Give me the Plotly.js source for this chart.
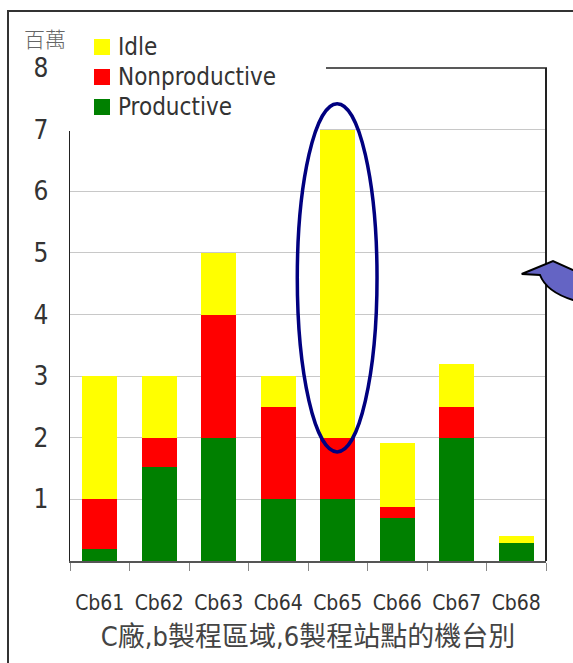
<!DOCTYPE html>
<html><head><meta charset="utf-8">
<script src="https://cdn.plot.ly/plotly-3.0.1.min.js"></script>
<style>html,body{margin:0;padding:0;background:#fff;overflow:hidden;} #chart{width:573px;height:663px;}</style>
</head><body><div id="chart"></div>
<script>
const categories = ['Cb61','Cb62','Cb63','Cb64','Cb65','Cb66','Cb67','Cb68'];
const productive = [0.2, 1.52, 2.0, 1.0, 1.0, 0.7, 2.0, 0.3];
const nonproductive = [0.8, 0.48, 2.0, 1.5, 1.0, 0.18, 0.5, 0];
const idle = [2.0, 1.0, 1.0, 0.5, 5.0, 1.04, 0.7, 0.1];
const yTicks = [1,2,3,4,5,6,7,8];
const seriesNames = ['Productive','Nonproductive','Idle'];
const seriesColors = ['#008000','#ff0000','#ffff00'];
const xTitle = 'C廠,b製程區域,6製程站點的機台別';
const unitLabel = '百萬';

const FONT = '"DejaVu Sans Condensed", "DejaVu Sans", "Noto Sans CJK TC", sans-serif';
const W = 573, H = 663, L = 70, R = 546, T = 68, B = 561;
const px = v => (v - L) / (R - L);
const py = v => (B - v) / (B - T);

const values = [productive, nonproductive, idle];
const traces = values.map((vals, i) => ({
  type:'bar', x:categories, y:vals, name:seriesNames[i],
  marker:{color:seriesColors[i], line:{width:0}}, showlegend:false, hoverinfo:'skip'
}));

const calloutPts = [[521.7,274],[553,261],[573,270],[585,273],[585,303],[573,300]];
let callout = 'M ' + calloutPts.map(p => px(p[0]) + ',' + py(p[1])).join(' L ');
callout += ' C ' + px(560) + ',' + py(296) + ' ' + px(545) + ',' + py(288) + ' ' + px(540) + ',' + py(275) + ' Z';

const shapes = [
  {type: 'path', xref: 'paper', yref: 'paper', layer: 'above',
    path: 'M ' + px(8) + ',' + py(670) + ' L ' + px(8) + ',' + py(11) + ' L ' + px(580) + ',' + py(11),
    line: {color: '#333333', width: 2}},
  {type: 'rect', xref: 'paper', yref: 'paper', layer: 'above',
    x0: px(66), x1: px(320), y0: py(131), y1: py(64), fillcolor: '#ffffff', line: {width: 0}},
  {type: 'line', xref: 'paper', yref: 'paper', layer: 'above',
    x0: px(326), x1: px(547), y0: 1, y1: 1, line: {color: '#222222', width: 1.5}},
  {type: 'line', xref: 'paper', yref: 'paper', layer: 'above',
    x0: 1, x1: 1, y0: 0, y1: 1, line: {color: '#222222', width: 2}},
  {type: 'circle', xref: 'x', yref: 'y', layer: 'above',
    x0: 3.32, x1: 4.66, y0: 1.77, y1: 7.42, line: {color: '#000080', width: 3.5}},
  {type: 'path', xref: 'paper', yref: 'paper', layer: 'above', path: callout,
    fillcolor: '#6464c4', line: {color: '#000000', width: 2}}
];
const annotations = [
  {text: unitLabel, xref: 'paper', yref: 'paper', x: px(45), y: py(38), xanchor: 'center', yanchor: 'middle',
    showarrow: false, font: {family: '"Noto Sans CJK TC", sans-serif', size: 21, color: '#666666', weight: 300}}
];
// legend drawn manually: Idle, Nonproductive, Productive (top to bottom)
[2,1,0].forEach((si, k) => {
  const cy = 47 + 30 * k;
  shapes.push({type: 'rect', xref: 'paper', yref: 'paper', layer: 'above',
    x0: px(94), x1: px(110), y0: py(cy + 8), y1: py(cy - 8), fillcolor: seriesColors[si], line: {width: 0}});
  annotations.push({text: seriesNames[si], xref: 'paper', yref: 'paper', x: px(116), y: py(cy),
    xanchor: 'left', yanchor: 'middle', showarrow: false,
    font: {family: FONT, size: 24, color: '#333333'}});
});

const layout = {
  width: W, height: H,
  margin: {l: L, r: W - R, t: T, b: H - B, pad: 0},
  paper_bgcolor: '#ffffff', plot_bgcolor: '#ffffff',
  barmode: 'stack', bargap: 0.41,
  font: {family: FONT, color: '#333333'},
  showlegend: false,
  xaxis: {type: 'category', showline: true, linecolor: '#555555', linewidth: 1.5, ticks: 'outside',
    tickson: 'boundaries', ticklen: 8, tickcolor: '#888888', tickwidth: 1,
    tickfont: {family: FONT, size: 21, color: '#333333'}, ticklabelstandoff: 22,
    showgrid: false, zeroline: false, fixedrange: true,
    title: {text: xTitle, font: {family: FONT, size: 27, color: '#444444'}, standoff: 13}},
  yaxis: {range: [0, 8], tickvals: yTicks, ticktext: yTicks.map(String), showline: true,
    linecolor: '#222222', linewidth: 1.5, ticks: '', showgrid: true, gridcolor: '#c8c8c8', gridwidth: 1,
    zeroline: false, tickfont: {family: FONT, size: 26, color: '#333333'}, ticklabelstandoff: 15, fixedrange: true},
  shapes: shapes,
  annotations: annotations
};

Plotly.newPlot('chart', traces, layout, {displayModeBar: false, staticPlot: true});
</script>
</body></html>
